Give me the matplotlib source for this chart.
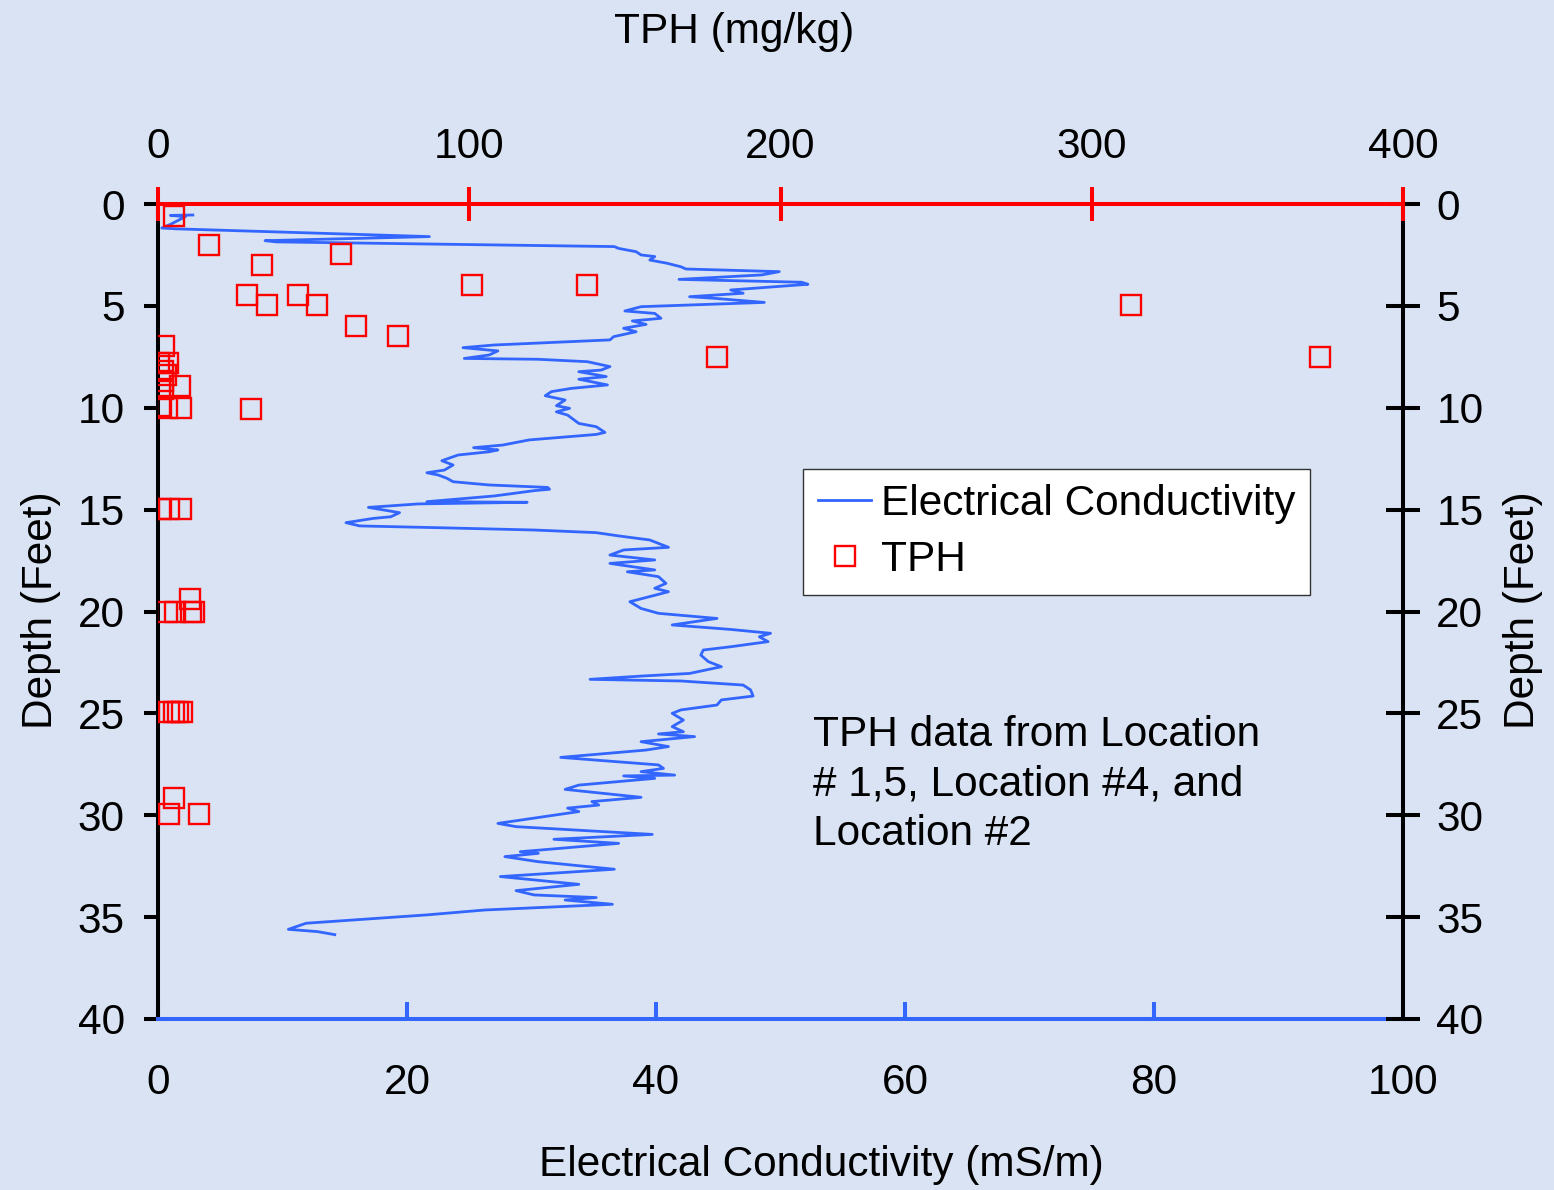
import matplotlib
matplotlib.use("Agg")
import matplotlib.pyplot as plt
from matplotlib.lines import Line2D

plt.rcParams['font.family'] = ['Liberation Sans', 'DejaVu Sans']

# ---------------- data ----------------
ec_values = [2.8, 1.0, 2.2, 1.0, 0.3, 1.5, 21.8, 8.6, 9.5, 36.65, 37.0, 38.4, 38.8, 39.9, 39.5,
             40.9, 42.0, 42.4, 49.9, 48.5, 41.85, 51.7, 52.2, 46.0, 47.0, 42.7, 44.7, 48.7,
             38.8, 37.5, 39.9, 40.4, 38.1, 39.2, 37.4, 38.4, 36.6, 36.3, 27.0, 24.5, 27.3,
             26.6, 24.6, 30.5, 34.5, 36.3, 35.6, 33.8, 36.0, 33.8, 36.1, 33.2, 31.6, 31.1,
             32.7, 32.0, 33.06, 32.0,
             32.9, 33.8, 35.2, 35.9, 35.2, 29.8, 27.7, 25.35, 27.3, 26.6, 24.1, 22.8, 23.7,
             23.0, 21.6, 22.5, 23.2, 23.7, 26.6, 31.3, 31.45, 30.2, 27.0, 21.6, 29.65, 20.9,
             16.9, 19.4, 18.7, 17.3, 15.1, 16.2, 22.7, 30.2, 35.2, 37.0, 39.5, 41.0, 37.4,
             36.3, 39.9, 36.3, 39.9, 37.7, 40.2, 40.8, 39.9, 41.0, 37.9, 38.8, 40.2, 44.9,
             41.3, 46.0, 49.2, 48.3, 49.0, 46.0, 43.8, 43.6, 44.2, 45.25, 42.7, 38.8, 34.7,
             42.0, 47.0, 47.6, 47.8, 45.25, 44.9, 42.0, 41.3, 42.2, 41.3, 42.2, 40.2, 43.1,
             38.8, 41.0, 39.2, 32.35, 40.2, 40.6, 38.8, 41.5, 37.4, 39.9, 33.8, 32.7, 38.8,
             34.85, 35.4, 32.9, 33.8, 27.3, 28.76, 39.7, 31.8, 37.0, 29.1, 30.55, 27.86,
             30.55, 36.65, 27.5, 33.8, 28.76, 30.2, 35.2, 32.7, 36.5, 26.25, 21.6, 11.9,
             10.47, 12.8, 14.2]
ec_depth = [0.54, 0.56, 0.62, 1.0, 1.18, 1.22, 1.60, 1.80, 1.86, 2.09, 2.18, 2.34, 2.50, 2.58, 2.75,
            2.91, 3.08, 3.19, 3.32, 3.48, 3.70, 3.84, 3.94, 4.22, 4.38, 4.55, 4.63, 4.83,
            5.04, 5.25, 5.37, 5.61, 5.74, 5.91, 6.10, 6.27, 6.51, 6.67, 6.92, 7.05, 7.21,
            7.41, 7.58, 7.62, 7.74, 7.98, 8.15, 8.23, 8.47, 8.60, 8.88, 9.05, 9.21, 9.41,
            9.62, 9.90, 10.03, 10.20,
            10.36, 10.77, 10.93, 11.21, 11.31, 11.58, 11.83, 11.96, 12.07, 12.16, 12.32, 12.60, 12.81,
            13.06, 13.19, 13.30, 13.46, 13.63, 13.79, 13.91, 14.00, 14.07, 14.33, 14.61, 14.64, 14.72,
            14.89, 15.15, 15.35, 15.43, 15.64, 15.80, 15.89, 16.00, 16.13, 16.29, 16.49, 16.85, 16.98,
            17.23, 17.47, 17.64, 17.96, 18.05, 18.29, 18.62, 18.86, 19.03, 19.52, 19.85, 20.09, 20.34,
            20.66, 20.88, 21.07, 21.24, 21.48, 21.73, 21.89, 22.14, 22.46, 22.71, 23.04, 23.17, 23.33,
            23.41, 23.61, 23.85, 24.15, 24.34, 24.59, 24.83, 25.00, 25.33, 25.65, 25.90, 26.01, 26.14,
            26.39, 26.63, 26.80, 27.16, 27.53, 27.70, 27.86, 28.03, 28.07, 28.19, 28.52, 28.73, 29.12,
            29.33, 29.50, 29.65, 29.82, 30.40, 30.56, 30.94, 31.18, 31.38, 31.79, 31.87, 32.03,
            32.28, 32.65, 33.01, 33.39, 33.70, 33.91, 34.04, 34.16, 34.37, 34.65, 34.89, 35.30,
            35.60, 35.71, 35.86]

tph_values = [5.0, 16.4, 33.4, 58.8, 100.9, 137.8, 28.6, 35.0, 45.0, 51.1, 63.6, 77.1, 179.6,
              312.6, 373.3, 29.9, 1.9, 0.3, 3.3, 1.5, 2.5, 1.7, 7.1, 1.7, 0.6, 2.8, 7.5,
              0.8, 3.5, 7.5, 10.3, 2.8, 5.5, 10.5, 11.5, 3.5, 5.0, 6.5, 7.6, 5.1, 3.5, 13.3]
tph_depth = [0.6, 2.0, 3.0, 2.45, 3.98, 3.98, 4.47, 4.96, 4.47, 4.96, 5.99, 6.48, 7.5,
             4.96, 7.5, 10.06, 6.95, 7.8, 7.8, 8.2, 8.4, 8.7, 8.95, 9.1, 9.9, 10.0, 10.0,
             14.97, 14.97, 14.97, 19.4, 20.0, 20.0, 20.0, 20.0, 24.95, 24.95, 24.95, 24.95,
             29.17, 29.95, 29.95]

ec_ticks = [0, 20, 40, 60, 80, 100]
tph_ticks = [0, 100, 200, 300, 400]
depth_ticks = [0, 5, 10, 15, 20, 25, 30, 35, 40]

BG = '#D9E3F3'
BLUE = '#3366FF'
RED = '#FF0000'
FS = 30.5

fig = plt.figure(figsize=(15.54, 11.9), dpi=100, facecolor=BG)
ax = fig.add_axes([158/1554, 1 - 1019/1190, 1245/1554, 815/1190])
ax.set_facecolor(BG)

ax.plot(ec_values, ec_depth, color=BLUE, lw=2.0, zorder=3)
ax.set_xlim(0, 100)
ax.set_ylim(40, 0)
ax.set_xticks(ec_ticks)
ax.set_yticks(depth_ticks)

# right depth axis
ax3 = ax.twinx()
ax3.set_ylim(40, 0)
ax3.set_yticks(depth_ticks)

# top TPH axis
ax2 = ax.twiny()
ax2.plot(tph_values, tph_depth, linestyle='none', marker='s', markersize=14,
         markerfacecolor='none', markeredgecolor=RED, markeredgewidth=1.7, zorder=4)
ax2.set_xlim(0, 400)
ax2.set_xticks(tph_ticks)
ax2.set_ylim(40, 0)

# spines
for a in (ax, ax2, ax3):
    for s in ['top', 'bottom', 'left', 'right']:
        a.spines[s].set_linewidth(2.9)
        a.spines[s].set_visible(False)
ax.spines['left'].set_visible(True)
ax.spines['left'].set_color('black')
ax.spines['bottom'].set_visible(True)
ax.spines['bottom'].set_color(BLUE)
ax.spines['bottom'].set_zorder(5)
ax3.spines['right'].set_visible(True)
ax3.spines['right'].set_color('black')
ax2.spines['top'].set_visible(True)
ax2.spines['top'].set_color(RED)

ax.tick_params(axis='x', direction='in', length=12, width=2.9, color=BLUE,
               labelsize=FS, pad=32)
ax.tick_params(axis='y', direction='out', length=10, width=2.9, color='black',
               labelsize=FS, pad=14)
ax2.tick_params(axis='x', direction='inout', length=24, width=2.9, color=RED,
                labelsize=FS, pad=15)
ax3.tick_params(axis='y', direction='inout', length=24, width=2.9, color='black',
                labelsize=FS, pad=12)

ax.set_xlabel('Electrical Conductivity (mS/m)', fontsize=FS)
ax.xaxis.set_label_coords(0.533, -0.179)
ax.xaxis.label.set_va('center')
ax2.set_xlabel('TPH (mg/kg)', fontsize=FS)
ax2.xaxis.set_label_coords(0.463, 1.211)
ax2.xaxis.label.set_va('center')
ax.set_ylabel('Depth (Feet)', fontsize=FS)
ax.yaxis.set_label_coords(-0.094, 0.502)
ax.yaxis.label.set_va('center')
ax3.set_ylabel('Depth (Feet)', fontsize=FS, rotation=90)
ax3.yaxis.set_label_coords(1.0964, 0.502)
ax3.yaxis.label.set_va('center')

ax.text(0.526, 0.288, 'TPH data from Location\n# 1,5, Location #4, and\nLocation #2',
        transform=ax.transAxes, fontsize=FS, ha='left', va='center', linespacing=1.31)

handles = [Line2D([], [], color=BLUE, lw=2.0),
           Line2D([], [], linestyle='none', marker='s', markersize=14,
                  markerfacecolor='none', markeredgecolor=RED, markeredgewidth=1.7)]
leg = ax2.legend(handles, ['Electrical Conductivity', 'TPH'], loc='upper left',
                 bbox_to_anchor=((803 - 158) / 1245, (1019 - 469) / 815),
                 borderaxespad=0, fontsize=FS, frameon=True, fancybox=False,
                 edgecolor='#333333', framealpha=1, handlelength=1.26,
                 handletextpad=0.22, borderpad=0.35, labelspacing=0.38)
leg.get_frame().set_linewidth(1.0)

fig.savefig('out.png', dpi=100, facecolor=BG)
